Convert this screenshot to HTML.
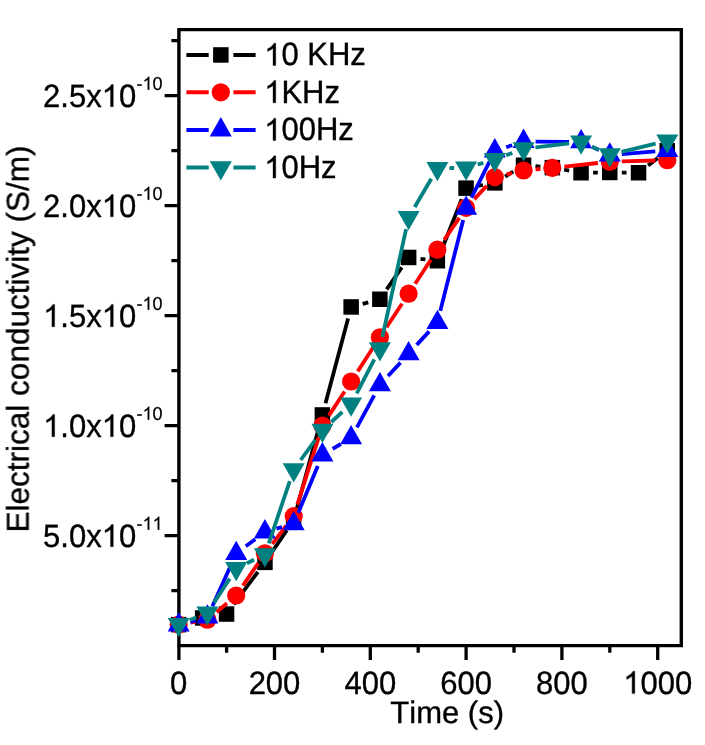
<!DOCTYPE html>
<html><head><meta charset="utf-8"><style>
html,body{margin:0;padding:0;background:#fff;}
body{width:705px;height:745px;overflow:hidden;}
svg{display:block;}
text{will-change:transform;font-kerning:none;text-rendering:geometricPrecision;}
.t{font-family:"Liberation Sans",sans-serif;font-size:31px;fill:#000;stroke:#000;stroke-width:0.35px;}
.o{fill:transparent;stroke:none;}
.s{font-family:"Liberation Sans",sans-serif;font-size:18px;fill:#000;stroke:#000;stroke-width:0.25px;}
</style></head><body>
<svg width="705" height="745" viewBox="0 0 705 745">
<rect width="705" height="745" fill="#fff"/>
<path d="M178.9 27.9V647.3M177.2 29.6H683M681.3 27.9V647.3M177.2 645.6H683" stroke="#000" stroke-width="3.4" fill="none"/>
<path d="M164.6 535.7H179M164.6 425.7H179M164.6 315.7H179M164.6 205.7H179M164.6 95.7H179M171.4 590.7H179M171.4 480.7H179M171.4 370.7H179M171.4 260.7H179M171.4 150.7H179M171.4 40.7H179M178.9 646V660M274.5 646V660M370.3 646V660M466.1 646V660M561.9 646V660M657.7 646V660M226.6 646V652.8M322.4 646V652.8M418.2 646V652.8M514.0 646V652.8M609.8 646V652.8" stroke="#000" stroke-width="3.3" fill="none"/>
<text x="178.7" y="693.5" class="t" text-anchor="middle" transform="matrix(1 0 0 1.040 0 -27.740)">0</text>
<text x="274.5" y="693.5" class="t" text-anchor="middle" transform="matrix(1 0 0 1.040 0 -27.740)">200</text>
<text x="370.3" y="693.5" class="t" text-anchor="middle" transform="matrix(1 0 0 1.040 0 -27.740)">400</text>
<text x="466.1" y="693.5" class="t" text-anchor="middle" transform="matrix(1 0 0 1.040 0 -27.740)">600</text>
<text x="561.9" y="693.5" class="t" text-anchor="middle" transform="matrix(1 0 0 1.040 0 -27.740)">800</text>
<text x="657.7" y="693.5" class="t" text-anchor="middle" transform="matrix(1 0 0 1.040 0 -27.740)"><tspan class="o">1</tspan>000</text>
<text x="136.2" y="546.7" class="t" text-anchor="end" transform="matrix(1 0 0 1.040 0 -21.868)">5.0x<tspan class="o">1</tspan>0</text>
<text x="162.6" y="529.7" class="s" text-anchor="end" transform="matrix(1 0 0 1.040 0 -21.188)">-<tspan class="o">1</tspan><tspan class="o">1</tspan></text>
<text x="136.2" y="436.7" class="t" text-anchor="end" transform="matrix(1 0 0 1.040 0 -17.468)"><tspan class="o">1</tspan>.0x<tspan class="o">1</tspan>0</text>
<text x="162.6" y="419.7" class="s" text-anchor="end" transform="matrix(1 0 0 1.040 0 -16.788)">-<tspan class="o">1</tspan>0</text>
<text x="136.2" y="326.7" class="t" text-anchor="end" transform="matrix(1 0 0 1.040 0 -13.068)"><tspan class="o">1</tspan>.5x<tspan class="o">1</tspan>0</text>
<text x="162.6" y="309.7" class="s" text-anchor="end" transform="matrix(1 0 0 1.040 0 -12.388)">-<tspan class="o">1</tspan>0</text>
<text x="136.2" y="216.7" class="t" text-anchor="end" transform="matrix(1 0 0 1.040 0 -8.668)">2.0x<tspan class="o">1</tspan>0</text>
<text x="162.6" y="199.7" class="s" text-anchor="end" transform="matrix(1 0 0 1.040 0 -7.988)">-<tspan class="o">1</tspan>0</text>
<text x="136.2" y="106.7" class="t" text-anchor="end" transform="matrix(1 0 0 1.040 0 -4.268)">2.5x<tspan class="o">1</tspan>0</text>
<text x="162.6" y="89.7" class="s" text-anchor="end" transform="matrix(1 0 0 1.040 0 -3.588)">-<tspan class="o">1</tspan>0</text>
<text x="447.2" y="723.4" class="t" text-anchor="middle">Time (s)</text>
<text transform="translate(28.6 339.0) rotate(-90)" x="0" y="0" class="t" style="font-size:31.5px" text-anchor="middle">Electrical conductivity (S/m)</text>
<g>
<path d="M190.3 621.5L191.1 621.2M214.5 616.0L214.8 616.0M233.7 604.4L257.8 572.0M271.7 552.4L286.9 530.2M296.8 508.7L319.2 426.5M325.5 403.3L348.1 318.5M362.7 303.8L368.3 302.3M386.7 289.3L401.8 267.3M420.5 258.8L425.4 259.3M441.8 249.5L461.7 199.3M477.9 185.9L483.0 185.0M505.1 176.6L513.3 171.5M535.5 166.2L540.4 166.6M564.1 169.7L569.2 170.6M593.1 172.6L597.8 172.6M621.8 172.6L626.5 172.6M648.1 165.4L657.8 158.0" stroke="#000000" stroke-width="3.8" fill="none" stroke-linecap="butt"/>
<rect x="170.9" y="616.9" width="15.5" height="15.5" fill="#000000"/>
<rect x="194.9" y="610.2" width="15.5" height="15.5" fill="#000000"/>
<rect x="218.8" y="606.3" width="15.5" height="15.5" fill="#000000"/>
<rect x="257.2" y="554.6" width="15.5" height="15.5" fill="#000000"/>
<rect x="285.9" y="512.6" width="15.5" height="15.5" fill="#000000"/>
<rect x="314.6" y="407.2" width="15.5" height="15.5" fill="#000000"/>
<rect x="343.4" y="299.2" width="15.5" height="15.5" fill="#000000"/>
<rect x="372.1" y="291.5" width="15.5" height="15.5" fill="#000000"/>
<rect x="400.9" y="249.7" width="15.5" height="15.5" fill="#000000"/>
<rect x="429.6" y="253.0" width="15.5" height="15.5" fill="#000000"/>
<rect x="458.3" y="180.4" width="15.5" height="15.5" fill="#000000"/>
<rect x="487.1" y="175.1" width="15.5" height="15.5" fill="#000000"/>
<rect x="515.8" y="157.5" width="15.5" height="15.5" fill="#000000"/>
<rect x="544.6" y="159.9" width="15.5" height="15.5" fill="#000000"/>
<rect x="573.3" y="165.0" width="15.5" height="15.5" fill="#000000"/>
<rect x="602.0" y="164.7" width="15.5" height="15.5" fill="#000000"/>
<rect x="630.8" y="165.0" width="15.5" height="15.5" fill="#000000"/>
<rect x="659.5" y="143.0" width="15.5" height="15.5" fill="#000000"/>
<path d="M190.5 622.6L195.6 621.7M216.6 612.0L227.0 603.3M242.9 585.6L258.2 563.2M272.3 543.8L286.3 525.6M297.3 504.7L318.8 437.1M328.9 415.6L344.6 391.5M357.7 371.4L373.3 347.3M386.5 327.2L402.0 303.7M415.2 283.7L430.8 259.7M444.2 239.8L459.3 217.8M474.3 199.1L486.7 185.9M506.5 174.4L511.9 173.2M535.5 169.4L540.4 169.0M564.3 166.6L597.9 163.0M621.8 161.4L655.3 160.5" stroke="#ff0000" stroke-width="3.8" fill="none" stroke-linecap="butt"/>
<circle cx="178.7" cy="624.6" r="9.1" fill="#ff0000"/>
<circle cx="207.4" cy="619.7" r="9.1" fill="#ff0000"/>
<circle cx="236.2" cy="595.5" r="9.1" fill="#ff0000"/>
<circle cx="264.9" cy="553.3" r="9.1" fill="#ff0000"/>
<circle cx="293.7" cy="516.1" r="9.1" fill="#ff0000"/>
<circle cx="322.4" cy="425.7" r="9.1" fill="#ff0000"/>
<circle cx="351.1" cy="381.5" r="9.1" fill="#ff0000"/>
<circle cx="379.9" cy="337.3" r="9.1" fill="#ff0000"/>
<circle cx="408.6" cy="293.7" r="9.1" fill="#ff0000"/>
<circle cx="437.4" cy="249.7" r="9.1" fill="#ff0000"/>
<circle cx="466.1" cy="207.9" r="9.1" fill="#ff0000"/>
<circle cx="494.8" cy="177.1" r="9.1" fill="#ff0000"/>
<circle cx="523.6" cy="170.5" r="9.1" fill="#ff0000"/>
<circle cx="552.3" cy="167.9" r="9.1" fill="#ff0000"/>
<circle cx="609.8" cy="161.7" r="9.1" fill="#ff0000"/>
<circle cx="667.3" cy="160.2" r="9.1" fill="#ff0000"/>
<path d="M190.3 621.8L195.9 620.3M212.4 606.2L231.2 564.5M245.8 546.3L255.3 539.2M276.5 528.7L282.1 527.1M298.3 512.7L317.8 466.0M332.7 448.8L340.8 444.0M356.9 427.3L374.2 395.3M388.0 376.0L400.5 362.6M416.7 344.9L429.2 331.4M440.3 310.9L463.2 220.0M471.5 197.6L489.5 161.7M506.2 147.2L512.2 145.2M535.6 141.6L569.1 141.8M592.0 146.9L598.9 150.1M621.8 154.1L655.3 151.4" stroke="#0000ff" stroke-width="3.8" fill="none" stroke-linecap="butt"/>
<path d="M178.7 612.2L189.7 631.5L167.7 631.5Z" fill="#0000ff"/>
<path d="M207.4 604.2L218.4 623.5L196.4 623.5Z" fill="#0000ff"/>
<path d="M236.2 540.7L247.2 560.0L225.2 560.0Z" fill="#0000ff"/>
<path d="M264.9 519.1L275.9 538.4L253.9 538.4Z" fill="#0000ff"/>
<path d="M293.7 511.0L304.7 530.3L282.7 530.3Z" fill="#0000ff"/>
<path d="M322.4 442.1L333.4 461.4L311.4 461.4Z" fill="#0000ff"/>
<path d="M351.1 424.9L362.1 444.2L340.1 444.2Z" fill="#0000ff"/>
<path d="M379.9 371.9L390.9 391.2L368.9 391.2Z" fill="#0000ff"/>
<path d="M408.6 340.9L419.6 360.2L397.6 360.2Z" fill="#0000ff"/>
<path d="M437.4 309.7L448.4 329.0L426.4 329.0Z" fill="#0000ff"/>
<path d="M466.1 195.5L477.1 214.8L455.1 214.8Z" fill="#0000ff"/>
<path d="M494.8 138.1L505.8 157.4L483.8 157.4Z" fill="#0000ff"/>
<path d="M523.6 128.6L534.6 147.9L512.6 147.9Z" fill="#0000ff"/>
<path d="M581.1 129.0L592.1 148.3L570.1 148.3Z" fill="#0000ff"/>
<path d="M609.8 142.2L620.8 161.5L598.8 161.5Z" fill="#0000ff"/>
<path d="M667.3 137.6L678.3 156.9L656.3 156.9Z" fill="#0000ff"/>
<path d="M189.8 619.9L196.3 617.4M214.0 602.8L229.7 578.6M247.0 563.3L254.1 559.8M268.8 543.3L289.8 481.1M300.7 460.0L315.4 439.8M331.3 422.0L342.3 412.0M356.7 393.3L374.3 359.3M382.4 337.0L406.1 229.1M414.7 207.0L431.3 178.7M449.4 168.1L454.1 168.0M477.6 164.5L483.3 162.9M506.1 155.3L512.3 152.9M535.5 147.3L569.1 143.3M592.0 146.8L598.8 149.8M621.5 151.8L655.6 143.6" stroke="#008080" stroke-width="3.8" fill="none" stroke-linecap="butt"/>
<path d="M178.7 637.2L189.7 617.9L167.7 617.9Z" fill="#008080"/>
<path d="M207.4 625.8L218.4 606.5L196.4 606.5Z" fill="#008080"/>
<path d="M236.2 581.3L247.2 562.0L225.2 562.0Z" fill="#008080"/>
<path d="M264.9 567.5L275.9 548.2L253.9 548.2Z" fill="#008080"/>
<path d="M293.7 482.6L304.7 463.3L282.7 463.3Z" fill="#008080"/>
<path d="M322.4 443.0L333.4 423.7L311.4 423.7Z" fill="#008080"/>
<path d="M351.1 416.8L362.1 397.5L340.1 397.5Z" fill="#008080"/>
<path d="M379.9 361.6L390.9 342.3L368.9 342.3Z" fill="#008080"/>
<path d="M408.6 230.2L419.6 210.9L397.6 210.9Z" fill="#008080"/>
<path d="M437.4 181.2L448.4 161.9L426.4 161.9Z" fill="#008080"/>
<path d="M466.1 180.7L477.1 161.4L455.1 161.4Z" fill="#008080"/>
<path d="M494.8 172.4L505.8 153.1L483.8 153.1Z" fill="#008080"/>
<path d="M523.6 161.6L534.6 142.3L512.6 142.3Z" fill="#008080"/>
<path d="M581.1 154.8L592.1 135.5L570.1 135.5Z" fill="#008080"/>
<path d="M609.8 167.5L620.8 148.2L598.8 148.2Z" fill="#008080"/>
<path d="M667.3 153.7L678.3 134.4L656.3 134.4Z" fill="#008080"/>
</g>
<path d="M186.4 55.0H208.7M233.4 55.0H255.6" stroke="#000000" stroke-width="4" fill="none"/>
<rect x="213.1" y="47.2" width="15.5" height="15.5" fill="#000000"/>
<text x="264.2" y="65.5" class="t" transform="matrix(1 0 0 1.040 0 -2.620)"><tspan class="o">1</tspan>0 KHz</text>
<path d="M186.4 92.3H208.7M233.4 92.3H255.6" stroke="#ff0000" stroke-width="4" fill="none"/>
<circle cx="220.8" cy="92.3" r="9.1" fill="#ff0000"/>
<text x="264.2" y="102.8" class="t" transform="matrix(1 0 0 1.040 0 -4.112)"><tspan class="o">1</tspan>KHz</text>
<path d="M186.4 130.0H208.7M233.4 130.0H255.6" stroke="#0000ff" stroke-width="4" fill="none"/>
<path d="M220.8 117.1L231.8 136.4L209.8 136.4Z" fill="#0000ff"/>
<text x="264.2" y="140.5" class="t" transform="matrix(1 0 0 1.040 0 -5.620)"><tspan class="o">1</tspan>00Hz</text>
<path d="M186.4 167.6H208.7M233.4 167.6H255.6" stroke="#008080" stroke-width="4" fill="none"/>
<path d="M220.8 180.5L231.8 161.2L209.8 161.2Z" fill="#008080"/>
<text x="264.2" y="178.1" class="t" transform="matrix(1 0 0 1.040 0 -7.124)"><tspan class="o">1</tspan>0Hz</text>
<g fill="#000" stroke="#000"><path transform="matrix(0.01514 0 0 -0.01514 623.21 693.50)" stroke-width="23" d="M763 0L583 0L583 1147Q518 1085 412 1023Q307 961 223 930L223 1104Q374 1175 487 1276Q600 1377 647 1472L763 1472Z"/><path transform="matrix(0.01514 0 0 -0.01514 101.70 546.70)" stroke-width="23" d="M763 0L583 0L583 1147Q518 1085 412 1023Q307 961 223 930L223 1104Q374 1175 487 1276Q600 1377 647 1472L763 1472Z"/><path transform="matrix(0.00879 0 0 -0.00879 142.57 529.70)" stroke-width="28" d="M763 0L583 0L583 1147Q518 1085 412 1023Q307 961 223 930L223 1104Q374 1175 487 1276Q600 1377 647 1472L763 1472Z"/><path transform="matrix(0.00879 0 0 -0.00879 152.58 529.70)" stroke-width="28" d="M763 0L583 0L583 1147Q518 1085 412 1023Q307 961 223 930L223 1104Q374 1175 487 1276Q600 1377 647 1472L763 1472Z"/><path transform="matrix(0.01514 0 0 -0.01514 43.09 436.70)" stroke-width="23" d="M763 0L583 0L583 1147Q518 1085 412 1023Q307 961 223 930L223 1104Q374 1175 487 1276Q600 1377 647 1472L763 1472Z"/><path transform="matrix(0.01514 0 0 -0.01514 101.70 436.70)" stroke-width="23" d="M763 0L583 0L583 1147Q518 1085 412 1023Q307 961 223 930L223 1104Q374 1175 487 1276Q600 1377 647 1472L763 1472Z"/><path transform="matrix(0.00879 0 0 -0.00879 142.57 419.70)" stroke-width="28" d="M763 0L583 0L583 1147Q518 1085 412 1023Q307 961 223 930L223 1104Q374 1175 487 1276Q600 1377 647 1472L763 1472Z"/><path transform="matrix(0.01514 0 0 -0.01514 43.09 326.70)" stroke-width="23" d="M763 0L583 0L583 1147Q518 1085 412 1023Q307 961 223 930L223 1104Q374 1175 487 1276Q600 1377 647 1472L763 1472Z"/><path transform="matrix(0.01514 0 0 -0.01514 101.70 326.70)" stroke-width="23" d="M763 0L583 0L583 1147Q518 1085 412 1023Q307 961 223 930L223 1104Q374 1175 487 1276Q600 1377 647 1472L763 1472Z"/><path transform="matrix(0.00879 0 0 -0.00879 142.57 309.70)" stroke-width="28" d="M763 0L583 0L583 1147Q518 1085 412 1023Q307 961 223 930L223 1104Q374 1175 487 1276Q600 1377 647 1472L763 1472Z"/><path transform="matrix(0.01514 0 0 -0.01514 101.70 216.70)" stroke-width="23" d="M763 0L583 0L583 1147Q518 1085 412 1023Q307 961 223 930L223 1104Q374 1175 487 1276Q600 1377 647 1472L763 1472Z"/><path transform="matrix(0.00879 0 0 -0.00879 142.57 199.70)" stroke-width="28" d="M763 0L583 0L583 1147Q518 1085 412 1023Q307 961 223 930L223 1104Q374 1175 487 1276Q600 1377 647 1472L763 1472Z"/><path transform="matrix(0.01514 0 0 -0.01514 101.70 106.70)" stroke-width="23" d="M763 0L583 0L583 1147Q518 1085 412 1023Q307 961 223 930L223 1104Q374 1175 487 1276Q600 1377 647 1472L763 1472Z"/><path transform="matrix(0.00879 0 0 -0.00879 142.57 89.70)" stroke-width="28" d="M763 0L583 0L583 1147Q518 1085 412 1023Q307 961 223 930L223 1104Q374 1175 487 1276Q600 1377 647 1472L763 1472Z"/><path transform="matrix(0.01514 0 0 -0.01514 264.20 65.50)" stroke-width="23" d="M763 0L583 0L583 1147Q518 1085 412 1023Q307 961 223 930L223 1104Q374 1175 487 1276Q600 1377 647 1472L763 1472Z"/><path transform="matrix(0.01514 0 0 -0.01514 264.20 102.80)" stroke-width="23" d="M763 0L583 0L583 1147Q518 1085 412 1023Q307 961 223 930L223 1104Q374 1175 487 1276Q600 1377 647 1472L763 1472Z"/><path transform="matrix(0.01514 0 0 -0.01514 264.20 140.50)" stroke-width="23" d="M763 0L583 0L583 1147Q518 1085 412 1023Q307 961 223 930L223 1104Q374 1175 487 1276Q600 1377 647 1472L763 1472Z"/><path transform="matrix(0.01514 0 0 -0.01514 264.20 178.10)" stroke-width="23" d="M763 0L583 0L583 1147Q518 1085 412 1023Q307 961 223 930L223 1104Q374 1175 487 1276Q600 1377 647 1472L763 1472Z"/></g>
</svg>
</body></html>
